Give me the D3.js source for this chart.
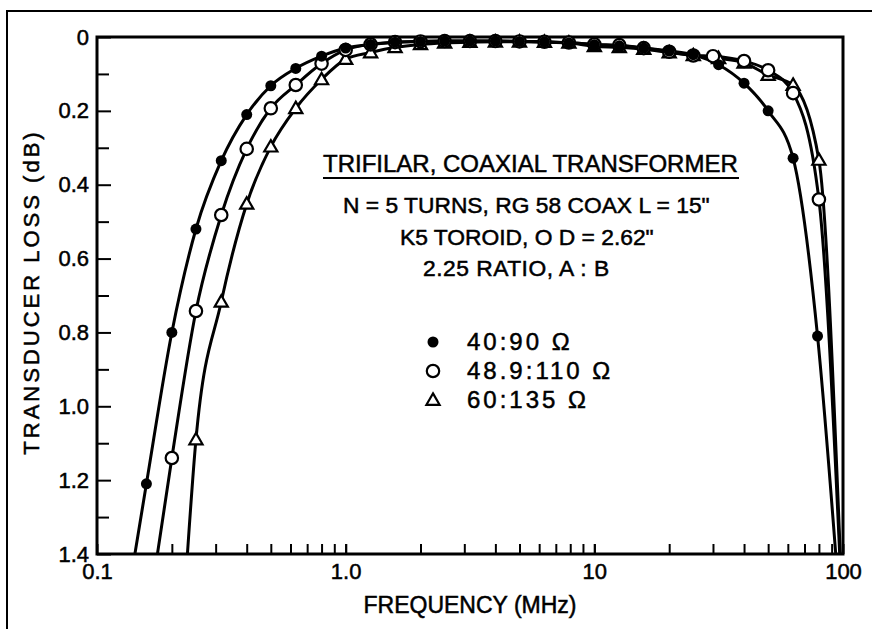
<!DOCTYPE html>
<html><head><meta charset="utf-8">
<script src="https://cdn.jsdelivr.net/npm/d3@7"></script>
<style>body{margin:0;background:#fff}svg{display:block}</style>
</head><body><svg id="c" width="872" height="629"></svg>
<script>
// ---------- data ----------
const xTickValues = [0.1, 1, 10, 100];
const xTickLabels = ["0.1", "1.0", "10", "100"];
const xMinorTicks = [0.2,0.3,0.4,0.5,0.6,0.7,0.8,0.9,1,2,3,4,5,6,7,8,9,10,20,30,40,50,60,70,80,90];
const yTickValues = [0, 0.2, 0.4, 0.6, 0.8, 1.0, 1.2, 1.4];
const yTickLabels = ["0", "0.2", "0.4", "0.6", "0.8", "1.0", "1.2", "1.4"];
const yMinorTicks = [0.1, 0.3, 0.5, 0.7, 0.9, 1.1, 1.3];

const seriesNames = ["40:90 \u03A9", "48.9:110 \u03A9", "60:135 \u03A9"];
const seriesMarkers = ["filled", "open", "triangle"];

// 40:90 ohm (filled circles)
const freqA = [0.158,0.2,0.25,0.316,0.4,0.5,0.63,0.8,1.0,1.26,1.58,2.0,2.5,3.16,4.0,5.0,6.3,7.9,10,12.6,15.8,20,25,31.6,40,50,63,79];
const lossA = [1.21,0.80,0.52,0.335,0.21,0.132,0.085,0.052,0.03,0.02,0.014,0.012,0.011,0.011,0.011,0.012,0.013,0.016,0.021,0.024,0.03,0.038,0.048,0.075,0.125,0.20,0.328,0.81];
const endFreqA = [0.142, 93.5];
const endLossA = [1.40, 1.40];

// 48.9:110 ohm (open circles)
const freqB = [0.2,0.25,0.316,0.4,0.5,0.63,0.8,1.0,1.26,1.58,2.0,2.5,3.16,4.0,5.0,6.3,7.9,10,12.6,15.8,20,25,30,40,50,63,80];
const lossB = [1.14,0.742,0.482,0.303,0.193,0.13,0.072,0.035,0.02,0.014,0.012,0.011,0.011,0.011,0.012,0.013,0.015,0.02,0.022,0.03,0.04,0.05,0.052,0.065,0.09,0.152,0.44];
const endFreqB = [0.175, 97];
const endLossB = [1.40, 1.40];

// 60:135 ohm (triangles)
const freqC = [0.25,0.316,0.4,0.5,0.63,0.8,1.0,1.26,1.58,2.0,2.5,3.16,4.0,5.0,6.3,7.9,10,12.6,15.8,20,25,31.6,40,50,63,80];
const lossC = [1.09,0.717,0.452,0.297,0.193,0.115,0.06,0.042,0.028,0.02,0.016,0.014,0.013,0.013,0.014,0.016,0.025,0.028,0.033,0.042,0.05,0.058,0.07,0.103,0.13,0.333];
const endFreqC = [0.231, 97.5];
const endLossC = [1.40, 1.40];

const titleText = "TRIFILAR, COAXIAL TRANSFORMER";
const noteLines = ["N = 5 TURNS, RG 58 COAX L = 15\"", "K5 TOROID, O D = 2.62\"", "2.25 RATIO, A : B"];
const xTitle = "FREQUENCY (MHz)";
const yTitle = "TRANSDUCER LOSS (dB)";

// ---------- drawing ----------
const FONT = "'Liberation Sans', Arial, sans-serif";
const svg = d3.select("#c");
const L = 97, R = 843, T = 37, B = 554;
const x = d3.scaleLog().domain([0.1, 100]).range([L, R]);
const y = d3.scaleLinear().domain([0, 1.4]).range([T, B]);

// outer frame
svg.append("path").attr("d", "M7,629 L7,11 L872,11").attr("fill", "none").attr("stroke", "#000").attr("stroke-width", 2);

svg.append("clipPath").attr("id", "clip").append("rect")
  .attr("x", L).attr("y", T).attr("width", R - L).attr("height", B - T);

// y axis ticks
const gy = svg.append("g").attr("transform", `translate(${L},0)`)
  .call(d3.axisLeft(y).tickValues(yTickValues).tickSize(-14).tickPadding(8)
    .tickFormat((d, i) => yTickLabels[i]));
const gy2 = svg.append("g").attr("transform", `translate(${L},0)`)
  .call(d3.axisLeft(y).tickValues(yMinorTicks).tickSize(-12).tickFormat(""));
// x axis ticks
const gx = svg.append("g").attr("transform", `translate(0,${B})`)
  .call(d3.axisBottom(x).tickValues(xTickValues).tickSize(-10).tickPadding(9)
    .tickFormat((d, i) => xTickLabels[i]));
const gx2 = svg.append("g").attr("transform", `translate(0,${B})`)
  .call(d3.axisBottom(x).tickValues(xMinorTicks).tickSize(-10).tickFormat(""));
[gy, gy2, gx, gx2].forEach(g => {
  g.select(".domain").remove();
  g.selectAll("line").attr("stroke", "#000").attr("stroke-width", 2);
  g.selectAll("text").attr("font-family", FONT).attr("font-size", 22).attr("fill", "#000")
    .attr("stroke", "#000").attr("stroke-width", 0.5);
});

// plot frame
svg.append("rect").attr("x", L).attr("y", T).attr("width", R - L).attr("height", B - T)
  .attr("fill", "none").attr("stroke", "#000").attr("stroke-width", 3);

// curves
const series = [
  {f: freqA, l: lossA, ef: endFreqA, el: endLossA, m: seriesMarkers[0]},
  {f: freqB, l: lossB, ef: endFreqB, el: endLossB, m: seriesMarkers[1]},
  {f: freqC, l: lossC, ef: endFreqC, el: endLossC, m: seriesMarkers[2]}
];
const line = d3.line().x(d => x(d[0])).y(d => y(d[1])).curve(d3.curveMonotoneX);
const gLines = svg.append("g").attr("clip-path", "url(#clip)");
series.forEach(s => {
  const pts = [[s.ef[0], s.el[0]]].concat(s.f.map((f, i) => [f, s.l[i]])).concat([[s.ef[1], s.el[1]]]);
  gLines.append("path").attr("d", line(pts)).attr("fill", "none")
    .attr("stroke", "#000").attr("stroke-width", 3);
});

function drawMarker(g, type, cx, cy) {
  if (type === "filled") {
    g.append("circle").attr("cx", cx).attr("cy", cy).attr("r", 5.5).attr("fill", "#000");
  } else if (type === "open") {
    g.append("circle").attr("cx", cx).attr("cy", cy).attr("r", 6.2).attr("fill", "#fff")
      .attr("stroke", "#000").attr("stroke-width", 2.2);
  } else {
    g.append("path").attr("d", d3.symbol(d3.symbolTriangle, 75)())
      .attr("transform", `translate(${cx},${cy + 1})`).attr("fill", "#fff")
      .attr("stroke", "#000").attr("stroke-width", 2.2);
  }
}
const gM = svg.append("g");
[2, 1, 0].forEach(k => {
  const s = series[k];
  s.f.forEach((f, i) => drawMarker(gM, s.m, x(f), y(s.l[i])));
});

// annotation
const txt = (t, xx, yy, size, anchor) => svg.append("text").text(t).attr("x", xx).attr("y", yy)
  .attr("font-family", FONT).attr("font-size", size).attr("text-anchor", anchor || "start")
  .attr("fill", "#000").attr("stroke", "#000").attr("stroke-width", 0.5);
txt(titleText, 323, 172, 24);
svg.append("line").attr("x1", 323).attr("x2", 739).attr("y1", 178).attr("y2", 178)
  .attr("stroke", "#000").attr("stroke-width", 2);
txt(noteLines[0], 343, 213, 22.8);
txt(noteLines[1], 400, 245, 22.8);
txt(noteLines[2], 423, 276, 22.8).attr("letter-spacing", 0.5);

// legend
const legY = [342, 371, 400];
seriesNames.forEach((n, i) => {
  drawMarker(svg, seriesMarkers[i], 433, legY[i]);
  txt(n, 467, legY[i] + 8, 24).attr("letter-spacing", 3);
});

// axis titles
txt(xTitle, 470, 613, 23, "middle");
svg.append("text").text(yTitle).attr("transform", "translate(39,292) rotate(-90)")
  .attr("font-family", FONT).attr("font-size", 22).attr("letter-spacing", 3)
  .attr("text-anchor", "middle").attr("fill", "#000").attr("stroke", "#000").attr("stroke-width", 0.5);
</script></body></html>
